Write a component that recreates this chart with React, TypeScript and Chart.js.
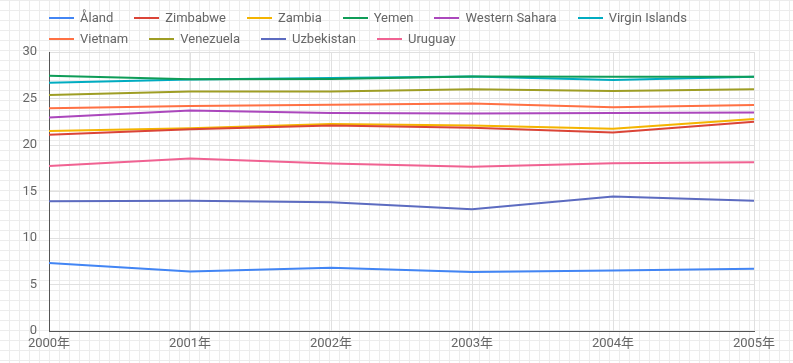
import React, { useEffect, useRef } from "react";
import { Chart, registerables } from "chart.js";

Chart.register(...registerables);

const years = ["2000年", "2001年", "2002年", "2003年", "2004年", "2005年"];
const seriesNames = ["Åland", "Zimbabwe", "Zambia", "Yemen", "Western Sahara", "Virgin Islands", "Vietnam", "Venezuela", "Uzbekistan", "Uruguay"];
const colors = ["#4285F4", "#DB4437", "#F4B400", "#0F9D58", "#AB47BC", "#00ACC1", "#FF7043", "#9E9D24", "#5C6BC0", "#F06292"];

const aland = [7.3, 6.4, 6.8, 6.35, 6.5, 6.7];
const zimbabwe = [21.1, 21.7, 22.1, 21.85, 21.35, 22.5];
const zambia = [21.5, 21.8, 22.25, 22.1, 21.75, 22.8];
const yemen = [27.45, 27.08, 27.1, 27.37, 27.35, 27.35];
const westernSahara = [22.95, 23.7, 23.45, 23.4, 23.45, 23.5];
const virginIslands = [26.7, 27.04, 27.2, 27.37, 27.0, 27.35];
const vietnam = [23.95, 24.2, 24.33, 24.45, 24.05, 24.3];
const venezuela = [25.38, 25.75, 25.75, 26.0, 25.8, 26.0];
const uzbekistan = [13.95, 14.0, 13.85, 13.1, 14.45, 14.0];
const uruguay = [17.75, 18.55, 18.0, 17.65, 18.05, 18.15];

const seriesValues = [aland, zimbabwe, zambia, yemen, westernSahara, virginIslands, vietnam, venezuela, uzbekistan, uruguay];

const FONT = "Roboto, 'Noto Sans CJK SC', sans-serif";

export default function App() {
  const ref = useRef<HTMLCanvasElement | null>(null);

  useEffect(() => {
    document.body.style.margin = "0";
    const canvas = ref.current;
    if (!canvas) return;
    const chart = new Chart(canvas, {
      type: "line",
      data: {
        labels: years,
        datasets: seriesNames.map((name, i) => ({
          label: name,
          data: seriesValues[i],
          borderColor: colors[i],
          backgroundColor: colors[i],
          borderWidth: 2,
          pointRadius: 0,
          tension: 0,
          fill: false,
        })),
      },
      options: {
        animation: false,
        responsive: false,
        maintainAspectRatio: false,
        layout: { padding: { top: 52, right: 39, bottom: 0, left: 0 } },
        plugins: {
          legend: { display: false },
          tooltip: { enabled: false },
        },
        scales: {
          x: {
            offset: false,
            grid: { color: "#e0e0e0", drawTicks: false },
            border: { color: "#555", width: 1 },
            ticks: { color: "#666", font: { family: FONT, size: 13 }, padding: 5, maxRotation: 0 },
            afterFit: (s: any) => { s.height = 32; },
          },
          y: {
            min: 0,
            max: 30,
            grid: { color: "#e0e0e0", drawTicks: false },
            border: { color: "#555", width: 1 },
            ticks: { stepSize: 5, color: "#666", font: { family: FONT, size: 13 }, padding: 12 },
            afterFit: (s: any) => { s.width = 49; },
          },
        },
      },
    });
    return () => chart.destroy();
  }, []);

  return (
    <div
      style={{
        position: "relative",
        width: 793,
        height: 363,
        backgroundColor: "#fff",
        backgroundImage:
          "linear-gradient(to right, #ececec 1px, transparent 1px), linear-gradient(to bottom, #ececec 1px, transparent 1px)",
        backgroundSize: "10px 10px",
        backgroundPosition: "9px 0px",
        overflow: "hidden",
      }}
    >
      <canvas ref={ref} width={793} height={363} style={{ position: "absolute", left: 0, top: 0, width: 793, height: 363 }} />
      <div
        style={{
          position: "absolute",
          left: 49,
          top: 7,
          width: 705,
          display: "flex",
          flexWrap: "wrap",
          fontFamily: FONT,
          fontSize: 13,
          color: "#666",
          lineHeight: "21px",
        }}
      >
        {seriesNames.map((name, i) => (
          <div key={name} style={{ display: "flex", alignItems: "center", marginRight: 21, height: 21 }}>
            <span style={{ display: "inline-block", width: 25, height: 2, background: colors[i], marginRight: 6 }} />
            <span>{name}</span>
          </div>
        ))}
      </div>
    </div>
  );
}
